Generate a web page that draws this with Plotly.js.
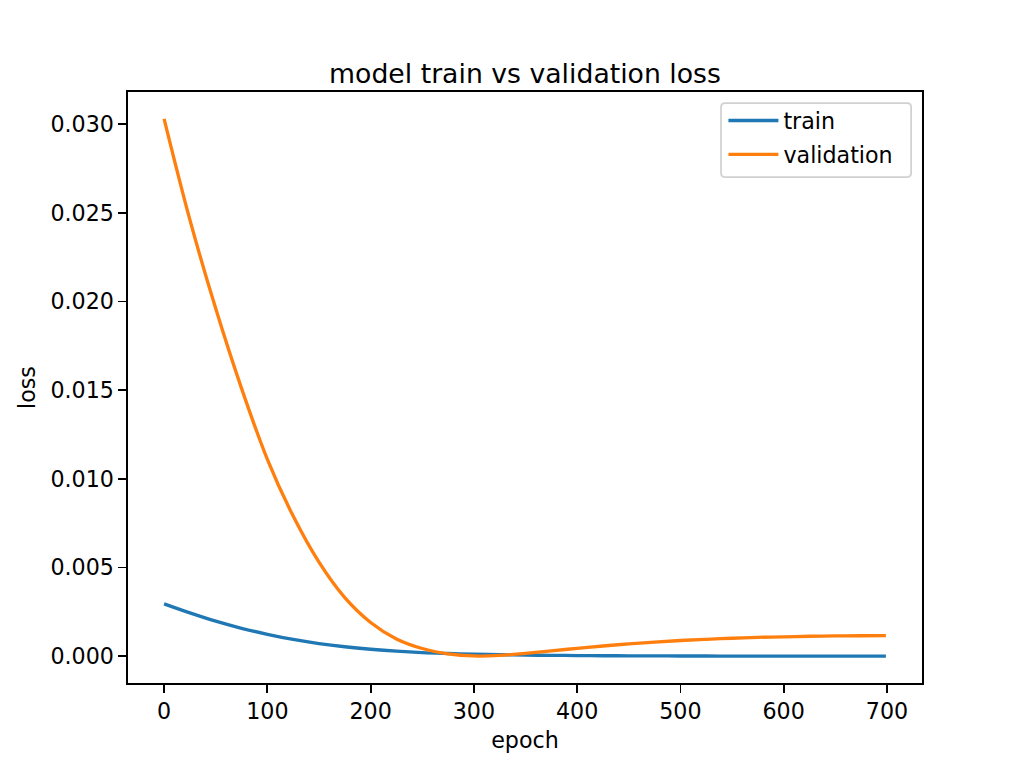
<!DOCTYPE html>
<html>
<head>
<meta charset="utf-8">
<script src="https://cdn.plot.ly/plotly-3.0.1.min.js"></script>
<style>
html, body { margin: 0; padding: 0; background: #fff; }
#chart { width: 1024px; height: 768px; }
</style>
</head>
<body>
<div id="chart"></div>
<script>
const epochs = [0, 25, 50, 75, 100, 125, 150, 175, 200, 225, 250, 275, 300, 325, 350, 375, 400, 425, 450, 475, 500, 525, 550, 575, 600, 625, 650, 675, 699];
const trainLoss = [0.00295, 0.00244, 0.00197, 0.00157, 0.00123, 0.00094, 0.00071, 0.00053, 0.00039, 0.00028, 0.00020, 0.00015, 0.00011, 0.00008, 0.00006, 0.000045, 0.000033, 0.000024, 0.000017, 0.000012, 0.000008, 0.000006, 0.000004, 0.000003, 0.000002, 0.0000015, 0.000001, 0.0000008, 0.0000006];
const valLoss = [0.0303, 0.0246, 0.0196, 0.0151, 0.0111, 0.0079, 0.0053, 0.0033, 0.0019, 0.00097, 0.00043, 0.00013, 0.00001, 0.00004, 0.00016, 0.00030, 0.00044, 0.00057, 0.00069, 0.00079, 0.00088, 0.00095, 0.00101, 0.00106, 0.00109, 0.00112, 0.00114, 0.00115, 0.00116];
const seriesNames = ["train", "validation"];
const yTickVals = [0, 0.005, 0.010, 0.015, 0.020, 0.025, 0.030];
const xTickVals = [0, 100, 200, 300, 400, 500, 600, 700];

const font = "DejaVu Sans";
const traces = [
  { x: epochs, y: trainLoss, name: seriesNames[0], mode: "lines", type: "scatter",
    line: { color: "#1f77b4", width: 3.33, shape: "spline", smoothing: 1 }, legendgroup: "a" },
  { x: epochs, y: valLoss, name: seriesNames[1], mode: "lines", type: "scatter",
    line: { color: "#ff7f0e", width: 3.33, shape: "spline", smoothing: 1 }, legendgroup: "b" }
];

const axisCommon = {
  showline: true, linecolor: "#000", linewidth: 1.78, mirror: true,
  ticks: "outside", ticklen: 7.8, tickwidth: 1.78, tickcolor: "#000",
  showgrid: false, zeroline: false,
  tickfont: { family: font, size: 22.2, color: "#000" },
  automargin: false
};

// rounded legend frame (paper coordinates of the plot area)
const lx0 = 0.7469, lx1 = 0.9863, ly0 = 0.8561, ly1 = 0.9812, rx = 0.005, ry = 0.0068;
const framePath = `M ${lx0 + rx} ${ly1} L ${lx1 - rx} ${ly1} Q ${lx1} ${ly1} ${lx1} ${ly1 - ry} ` +
  `L ${lx1} ${ly0 + ry} Q ${lx1} ${ly0} ${lx1 - rx} ${ly0} L ${lx0 + rx} ${ly0} Q ${lx0} ${ly0} ${lx0} ${ly0 + ry} ` +
  `L ${lx0} ${ly1 - ry} Q ${lx0} ${ly1} ${lx0 + rx} ${ly1} Z`;

const layout = {
  width: 1024, height: 768,
  paper_bgcolor: "#fff", plot_bgcolor: "#fff",
  margin: { l: 128, r: 102.4, t: 92.2, b: 84.5 },
  font: { family: font, color: "#000" },
  title: { text: "model train vs validation loss", font: { family: font, size: 26.7, color: "#000" },
           x: 0.5, xref: "paper", y: 1, yref: "paper", yanchor: "bottom", pad: { b: 9 } },
  xaxis: Object.assign({}, axisCommon, {
    range: [-34.95, 733.95], tickvals: xTickVals,
    title: { text: "epoch", font: { family: font, size: 22.2, color: "#000" }, standoff: 9 }
  }),
  yaxis: Object.assign({}, axisCommon, {
    range: [-0.001515, 0.031815], tickvals: yTickVals, tickformat: ".3f",
    title: { text: "loss", font: { family: font, size: 22.2, color: "#000" }, standoff: 9 }
  }),
  shapes: [{
    type: "path", xref: "paper", yref: "paper", path: framePath,
    fillcolor: "rgba(255,255,255,0.8)", line: { color: "rgba(204,204,204,0.9)", width: 1.78 }, layer: "above"
  }],
  showlegend: true,
  legend: {
    x: lx0 + 0.003, y: ly1 + 0.006, xanchor: "left", yanchor: "top",
    bgcolor: "rgba(0,0,0,0)", borderwidth: 0,
    font: { family: font, size: 22.2, color: "#000" },
    traceorder: "grouped", tracegroupgap: 2, itemwidth: 50
  }
};

Plotly.newPlot("chart", traces, layout, { staticPlot: true, displayModeBar: false });
</script>
</body>
</html>
